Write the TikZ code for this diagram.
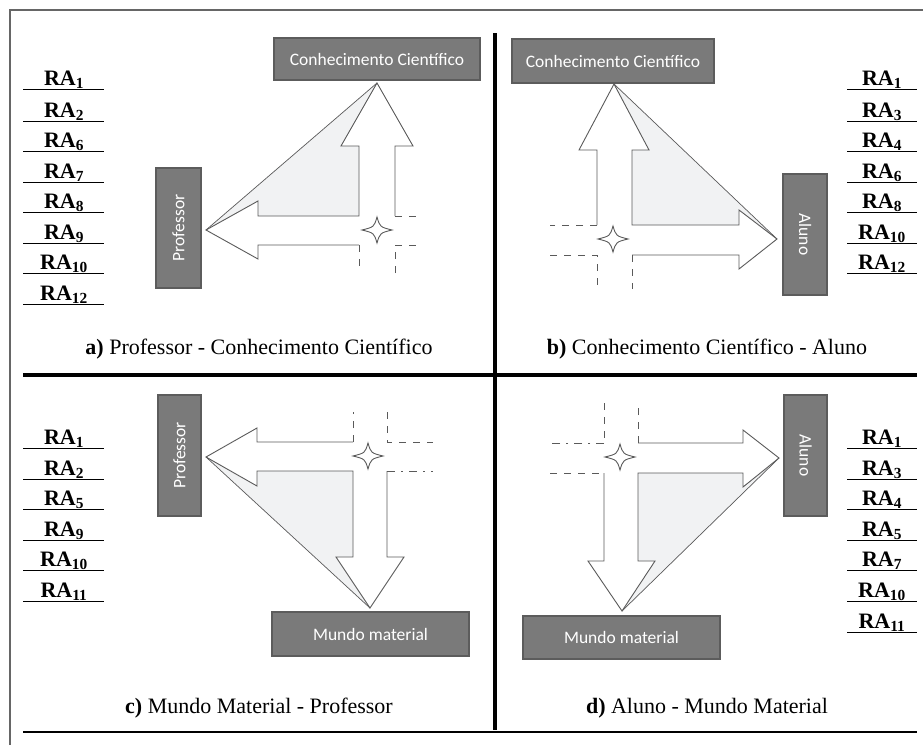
\documentclass[tikz,border=0pt]{standalone}
\usepackage{fontspec}
\setmainfont{Liberation Serif}
\newfontfamily\boxfont{Carlito}
\usetikzlibrary{positioning}

\definecolor{boxgray}{HTML}{7A7A7A}
\definecolor{boxline}{HTML}{5C5C5C}
\definecolor{lightfill}{HTML}{F1F2F3}
\definecolor{arrline}{HTML}{5A5A5A}

\begin{document}
\begin{tikzpicture}[x=1pt,y=-1pt,
		actor/.style={draw=boxline,line width=1.2pt,fill=boxgray,text=white,inner sep=0pt,
			font=\boxfont\fontsize{17.5}{19}\selectfont},
		flow/.style={draw=arrline,line width=0.9pt,line join=miter},
		stub/.style={draw=arrline,line width=0.9pt,dash pattern=on 7pt off 7pt},
		stubdot/.style={draw=arrline,line width=0.9pt,dash pattern=on 8pt off 6pt on 2pt off 6pt},
		diag/.style={draw=arrline,line width=0.7pt},
		ra/.style={font=\bfseries\fontsize{22}{24}\selectfont,anchor=base},
		caption/.style={font=\fontsize{22}{24}\selectfont,anchor=base},
		sparkle/.pic={\draw[arrline,line width=0.9pt,fill=white]
			(15,0) .. controls (3,3) .. (0,13) .. controls (-3,3) .. (-15,0)
			.. controls (-3,-3) .. (0,-13) .. controls (3,-3) .. cycle;}]

	\useasboundingbox (0,0) rectangle (923,745);

	% frame
	\draw[gray!80!black,line width=1.2pt] (10,745) -- (10,10) -- (923,10);
	\draw[line width=3.5pt] (495,33) -- (495,730);
	\draw[line width=4pt] (23,375) -- (917,375);
	\draw[line width=1.2pt] (23,732) -- (917,732);

	% a) Professor - Conhecimento Cientifico
	\node[actor,minimum width=206,minimum height=42] (cca) at (377,59) {Conhecimento Científico};
	\node[actor,rotate=90,minimum width=120,minimum height=45] (profa) at (178.5,228) {Professor};
	\fill[lightfill] (206,230) -- (377,83) -- (341,146) -- (359,146) -- (359,216) -- (258,216) -- (258,201) -- cycle;
	\draw[diag] (206,230) -- (377,83);
	\draw[flow] (395,216) -- (395,146) -- (413,146) -- (377,83) -- (341,146) -- (359,146) -- (359,216)
		-- (258,216) -- (258,201) -- (206,230) -- (258,259) -- (258,245) -- (359,245);
	\draw[stub] (395,216) -- (422,216);
	\draw[stub] (359,245) -- (359,273);
	\draw[stub] (395,273) -- (395,245) -- (422,245);
	\pic at (377,230) {sparkle};
	\foreach \y/\n in {89/1,121/2,151/6,182/7,212/8,243/9,273/10,304/12} {
		\draw[line width=1pt] (23,\y) -- (104,\y);
		\node[ra] at (64,\y-4) {RA\textsubscript{\n}};
	}
	\node[caption] (capa) at (259,354) {\textbf{a)} Professor - Conhecimento Científico};

	% b) Conhecimento Cientifico - Aluno
	\node[actor,minimum width=202,minimum height=44] (ccb) at (613,61) {Conhecimento Científico};
	\node[actor,rotate=-90,minimum width=121,minimum height=44] (alunob) at (805,234.5) {Aluno};
	\fill[lightfill] (614,84) -- (777,239) -- (739,210) -- (739,225) -- (632,225) -- (632,150) -- (649,150) -- cycle;
	\draw[diag] (614,84) -- (777,239);
	\draw[flow] (597,225) -- (597,150) -- (579,150) -- (614,84) -- (649,150) -- (632,150) -- (632,225)
		-- (739,225) -- (739,210) -- (777,239) -- (739,269) -- (739,255) -- (632,255);
	\draw[stub] (597,225) -- (550,225);
	\draw[stub] (550,255) -- (597,255) -- (597,289);
	\draw[stub] (632,255) -- (632,289);
	\pic at (613,239) {sparkle};
	\foreach \y/\n in {89/1,121/3,151/4,182/6,212/8,243/10,273/12} {
		\draw[line width=1pt] (847,\y) -- (917,\y);
		\node[ra] at (882,\y-4) {RA\textsubscript{\n}};
	}
	\node[caption] (capb) at (707,354) {\textbf{b)} Conhecimento Científico - Aluno};

	% c) Mundo Material - Professor
	\node[actor,rotate=90,minimum width=121,minimum height=43] (profc) at (179.5,455.5) {Professor};
	\node[actor,minimum width=197,minimum height=44] (mundoc) at (370.5,634) {Mundo material};
	\fill[lightfill] (206,457) -- (370,608) -- (336,557) -- (353,557) -- (353,471) -- (257,471) -- (257,486) -- cycle;
	\draw[diag] (206,457) -- (370,608);
	\draw[flow] (353,442) -- (257,442) -- (257,428) -- (206,457) -- (257,486) -- (257,471) -- (353,471)
		-- (353,557) -- (336,557) -- (370,608) -- (404,557) -- (387,557) -- (387,471);
	\draw[stub] (353,442) -- (353,412);
	\draw[stub] (387,412) -- (387,442) -- (433,442);
	\draw[stubdot] (387,471) -- (433,471);
	\pic at (368,456) {sparkle};
	\foreach \y/\n in {448/1,479/2,509/5,540/9,570/10,601/11} {
		\draw[line width=1pt] (23,\y) -- (104,\y);
		\node[ra] at (64,\y-4) {RA\textsubscript{\n}};
	}
	\node[caption] (capc) at (259,713) {\textbf{c)} Mundo Material - Professor};

	% d) Aluno - Mundo Material
	\node[actor,rotate=-90,minimum width=121,minimum height=43] (alunod) at (805.5,455.5) {Aluno};
	\node[actor,minimum width=197,minimum height=43] (mundod) at (621.5,637.5) {Mundo material};
	\fill[lightfill] (779,458) -- (622,611) -- (655,561) -- (638,561) -- (638,473) -- (743,473) -- (743,487) -- cycle;
	\draw[diag] (779,458) -- (622,611);
	\draw[flow] (638,443) -- (743,443) -- (743,430) -- (779,458) -- (743,487) -- (743,473) -- (638,473)
		-- (638,561) -- (655,561) -- (622,611) -- (588,561) -- (604,561) -- (604,473);
	\draw[stub] (638,443) -- (638,403);
	\draw[stub] (604,403) -- (604,443);
	\draw[stubdot] (604,443) -- (550,443);
	\draw[stub] (550,473) -- (604,473);
	\pic at (620,457) {sparkle};
	\foreach \y/\n in {448/1,479/3,509/4,540/5,570/7,601/10,632/11} {
		\draw[line width=1pt] (847,\y) -- (917,\y);
		\node[ra] at (882,\y-4) {RA\textsubscript{\n}};
	}
	\node[caption] (capd) at (707,713) {\textbf{d)} Aluno - Mundo Material};

\end{tikzpicture}
\end{document}
